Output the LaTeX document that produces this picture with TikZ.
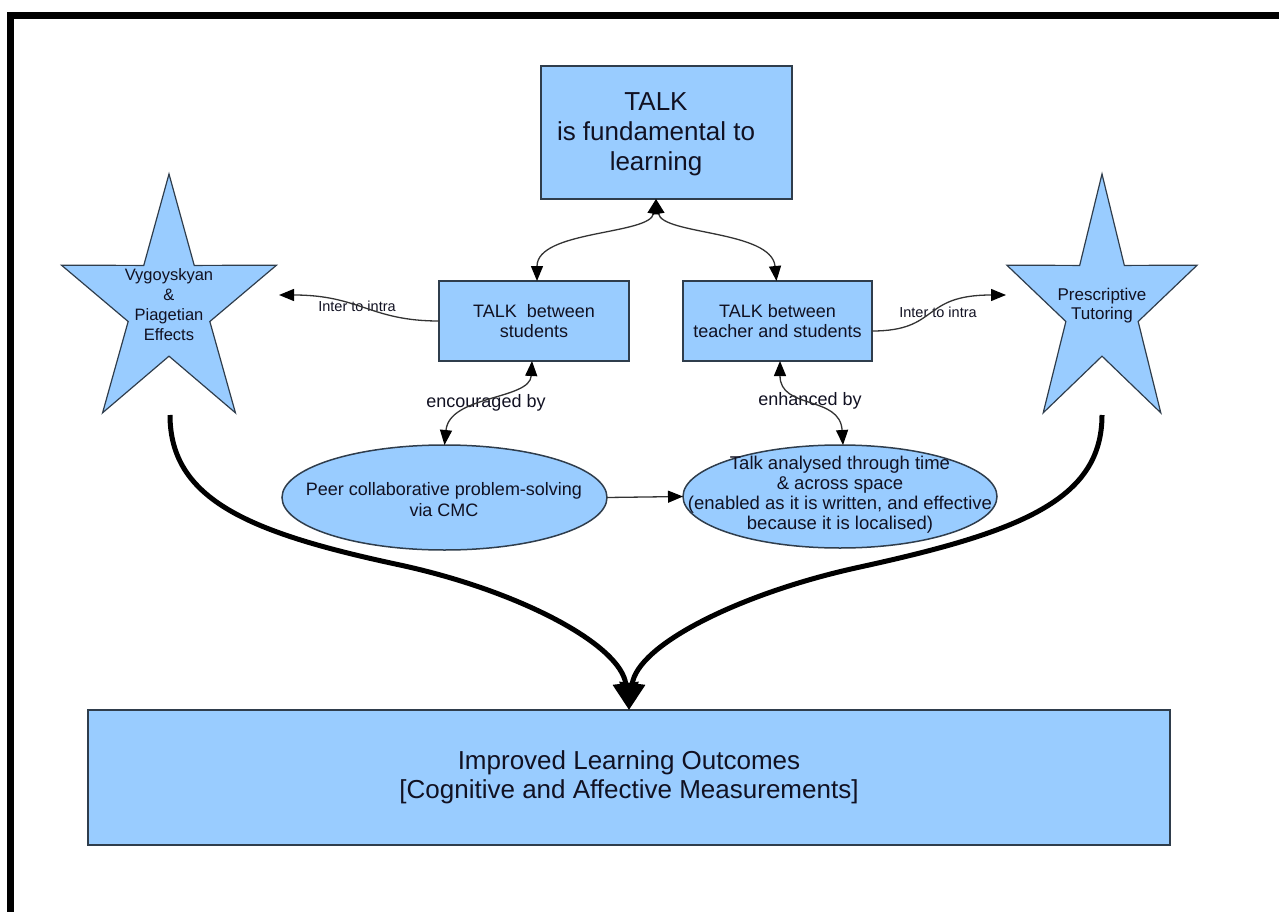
\documentclass[tikz,border=0pt]{standalone}
\usepackage{fontspec}
\setmainfont{Liberation Sans}
\usetikzlibrary{arrows.meta,shapes.geometric}
\definecolor{boxfill}{HTML}{99CCFF}
\definecolor{boxline}{HTML}{2F3D4C}
\definecolor{inktext}{HTML}{111122}
\definecolor{wirecol}{HTML}{333333}
\begin{document}
\begin{tikzpicture}[x=1pt,y=-1pt,
  every node/.style={text=inktext, inner sep=0pt, outer sep=0pt},
  block/.style={draw=boxline, fill=boxfill, line width=1.5pt, rectangle},
  oval/.style={draw=boxline, fill=boxfill, line width=1.5pt, ellipse},
  starfill/.style={draw=boxline, fill=boxfill, line width=1.2pt, line join=miter},
  txt/.style={align=center},
  wire/.style={draw=wirecol, line width=1.3pt},
  fat/.style={draw=black, line width=5pt},
  hd/.tip={Triangle[length=15pt,width=12pt,color=black]},
  bighd/.tip={Triangle[length=27pt,width=25pt]},
  midfont/.style={font=\fontsize{18}{20.5}\selectfont},
  smallfont/.style={font=\fontsize{14.5}{16}\selectfont}
]
\useasboundingbox (0,0) rectangle (1279,912);

% heavy frame along the top and left edges
\fill[black] (7,12) rectangle (1279,19);
\fill[black] (7,12) rectangle (14,912);

% stars
\begin{scope}[shift={(169,306)}]
\begin{scope}[x=113pt,y=132pt]
\draw[starfill] (90:1) -- (126:.38) -- (162:1) -- (198:.38) -- (234:1) -- (270:.38)
  -- (306:1) -- (342:.38) -- (18:1) -- (54:.38) -- cycle;
\end{scope}
\end{scope}
\begin{scope}[shift={(1102,306)}]
\begin{scope}[x=100pt,y=132pt]
\draw[starfill] (90:1) -- (126:.38) -- (162:1) -- (198:.38) -- (234:1) -- (270:.38)
  -- (306:1) -- (342:.38) -- (18:1) -- (54:.38) -- cycle;
\end{scope}
\end{scope}
\node[txt, font=\fontsize{16.5}{20}\selectfont] (vyg) at (169,305) {Vygoyskyan\\ \&\\ Piagetian\\ Effects};
\node[txt, font=\fontsize{17}{19}\selectfont] (pres) at (1102,306) {Prescriptive\\ Tutoring};
\coordinate (vygtip) at (279,295);
\coordinate (prestip) at (1006,295);
\coordinate (vygfoot) at (170,415);
\coordinate (presfoot) at (1102,415);
\coordinate (vygbend) at (400,565);
\coordinate (presbend) at (860,567);

% boxes
\node[block, minimum width=251, minimum height=133] (talk) at (666.5,132.5) {};
\node[txt, font=\fontsize{26}{30}\selectfont] (talktext) at (656,134.5) {TALK\\ is fundamental to\\ learning};
\node[block, midfont, txt, minimum width=190, minimum height=80] (stud) at (534,321) {TALK\ \ between\\ students};
\node[block, midfont, txt, minimum width=189, minimum height=80] (teach) at (777.5,321) {TALK between\\ teacher and students};
\node[block, txt, font=\fontsize{26}{29}\selectfont, minimum width=1082, minimum height=135] (out) at (629,777.5)
  {Improved Learning Outcomes\\ {[}Cognitive and Affective Measurements{]}};

% ellipses
\node[oval, minimum width=325, minimum height=105] (peer) at (444.5,497.5) {};
\node[txt, midfont] (peertext) at (444,499.5) {Peer collaborative problem-solving\\ via CMC};
\node[oval, minimum width=314, minimum height=103] (anal) at (840,496.5) {};
\node[txt, font=\fontsize{18.5}{20}\selectfont] (analtext) at (840,494.5)
  {Talk analysed through time\\ \& across space\\ (enabled as it is written, and effective\\ because it is localised)};

% connector labels
\node[smallfont] (lab1) at (357,306) {Inter to intra};
\node[smallfont] (lab2) at (938,312) {Inter to intra};
\node[midfont] (lab3) at (486,403) {encouraged by};
\node[midfont] (lab4) at (810,401) {enhanced by};

% thin connectors
\draw[wire, {hd}-{hd}] ([xshift=3pt]stud.north) .. controls +(0,-51) and +(-6,36) .. (talktext |- talk.south);
\draw[wire, {hd}-{hd}] ([xshift=-1pt]teach.north) .. controls +(-5,-51) and +(6,36) .. (talktext |- talk.south);
\draw[wire, -{hd}] (stud.west) .. controls +(-69,0) and +(81,0) .. (vygtip);
\draw[wire, -{hd}] ([yshift=-10pt]teach.east) .. controls +(68,0) and +(-86,0) .. (prestip);
\draw[wire, {hd}-{hd}] ([xshift=-2pt]stud.south) .. controls +(-2,39) and +(5,-50) .. (peer.north);
\draw[wire, {hd}-{hd}] ([xshift=2.5pt]teach.south) .. controls +(0,49) and +(-3,-50) .. ([xshift=3pt]anal.north);
\draw[wire, -{hd}] (peer.east) -- (anal.west);

% heavy converging connectors
\draw[fat, -{bighd}] (vygfoot) .. controls +(0,85) and +(-150,-32) .. (vygbend)
  .. controls +(120,26) and +(-8,-65) .. (out.north);
\draw[fat, -{bighd}] (presfoot) .. controls +(0,85) and +(160,-35) .. (presbend)
  .. controls +(-120,26) and +(8,-65) .. (out.north);
\end{tikzpicture}
\end{document}
